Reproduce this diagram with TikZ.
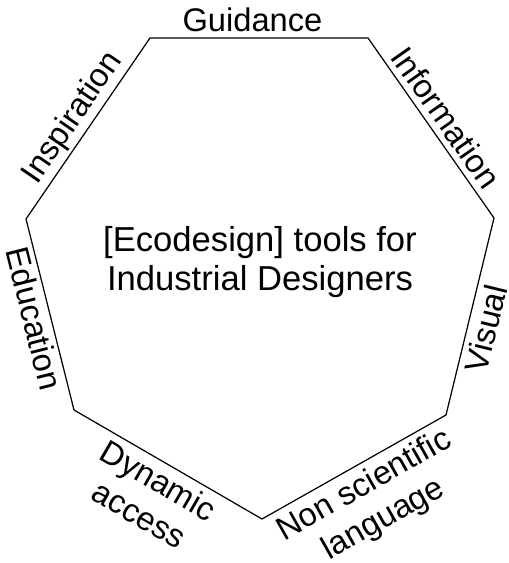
\documentclass[tikz,border=0pt]{standalone}
\usepackage{fontspec}
\setmainfont{Liberation Sans}

\begin{document}
\begin{tikzpicture}[x=0.02cm,y=0.02cm,
		lbl/.style={font=\fontsize{18.6}{22.2}\selectfont,align=center}]
		\useasboundingbox (0,0) rectangle (509,563);
		\coordinate (TL) at (150,525);
		\coordinate (TR) at (368,525);
		\coordinate (R) at (494,345);
		\coordinate (LR) at (446,148);
		\coordinate (B) at (262,44);
		\coordinate (LL) at (74,153);
		\coordinate (L) at (26,344);
		\draw[line width=0.7pt] (TL)
			-- node[lbl,above,pos=0.47] (guid) {Guidance} (TR)
			-- node[lbl,above,sloped] (info) {Information} (R)
			-- node[lbl,below,sloped,pos=0.54] (vis) {Visual} (LR)
			-- node[lbl,below,sloped] (nonsci) {Non scientific\\language} (B)
			-- node[lbl,below,sloped] (dyn) {Dynamic\\access} (LL)
			-- node[lbl,below,sloped,inner sep=2pt] (edu) {Education} (L)
			-- node[lbl,above,sloped,inner sep=1.5pt] (insp) {Inspiration} cycle;
		\node[lbl,font=\fontsize{19.7}{22.4}\selectfont] (tools) at (260,301) {[Ecodesign] tools for\\Industrial Designers};
	\end{tikzpicture}
\end{document}
